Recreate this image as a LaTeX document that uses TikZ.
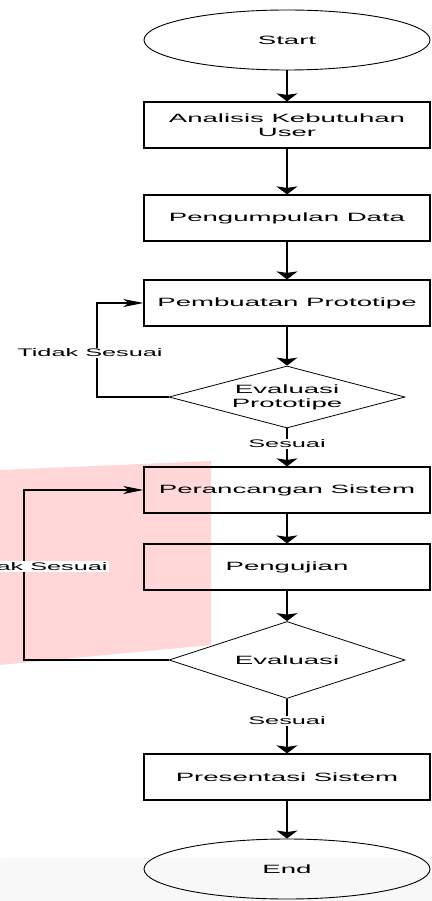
\documentclass[tikz,border=0pt]{standalone}
\usepackage{fontspec}
\setmainfont[FakeStretch=2.3]{Liberation Sans}
\usetikzlibrary{positioning,shapes,arrows.meta,backgrounds}
\definecolor{pinkbg}{RGB}{255,215,216}
\definecolor{greybg}{RGB}{248,248,248}

\begin{document}
\begin{tikzpicture}[x=1pt,y=-1pt,font=\fontsize{12}{14}\selectfont,
term node/.style={ellipse,draw,line width=0.9pt,minimum width=286pt,minimum height=60pt,inner sep=0pt},
proc node/.style={rectangle,draw,line width=1.2pt,minimum width=286pt,minimum height=46pt,inner sep=0pt,align=center},
dec node/.style={diamond,draw,line width=0.8pt,aspect=4,minimum width=236pt,inner sep=0pt,align=center},
flow/.style={line width=1.8pt,-{Stealth[length=8pt,width=21pt,inset=1.5pt]}},
back/.style={line width=1.2pt,-{Stealth[length=20pt,width=8pt,inset=5pt]}},
lbl/.style={fill=white,inner sep=1pt,font=\fontsize{11}{13}\selectfont}]
\useasboundingbox (0,0) rectangle (431,901);
\fill[pinkbg] (0,470) -- (211,461) -- (211,645) -- (0,665) -- cycle;
\fill[greybg,rounded corners=25pt] (-20,858) rectangle (450,940);

\node[term node] (1) at (287,40) {Start};
\node[proc node] (2) at (287,125) {Analisis Kebutuhan\\User};
\node[proc node] (3) at (287,218) {Pengumpulan Data};
\node[proc node] (4) at (287,303) {Pembuatan Prototipe};
\node[dec node,minimum height=62pt] (5) at (287,397) {Evaluasi\\Prototipe};
\node[proc node] (6) at (287,490) {Perancangan Sistem};
\node[proc node] (7) at (287,567) {Pengujian};
\node[dec node,minimum height=77pt] (8) at (287,660) {Evaluasi};
\node[proc node] (9) at (287,777) {Presentasi Sistem};
\node[term node] (10) at (287,869) {End};

\coordinate (k1) at (97,0);
\coordinate (k2) at (24,0);

\path[flow]
(1) edge (2)
(2) edge (3)
(3) edge (4)
(4) edge (5)
(5) edge node[lbl,pos=0.4] {Sesuai} (6)
(6) edge (7)
(7) edge (8)
(8) edge node[lbl,pos=0.4] {Sesuai} (9)
(9) edge (10);

\draw[back] (5.west) -- (5.west -| k1) -- node[lbl,pos=0.47,xshift=-7pt] {Tidak Sesuai} (4.west -| k1) -- (4.west);
\draw[back] (8.west) -- (8.west -| k2) -- node[lbl,pos=0.55,xshift=11pt] {Tidak Sesuai} (6.west -| k2) -- (6.west);
\end{tikzpicture}
\end{document}
